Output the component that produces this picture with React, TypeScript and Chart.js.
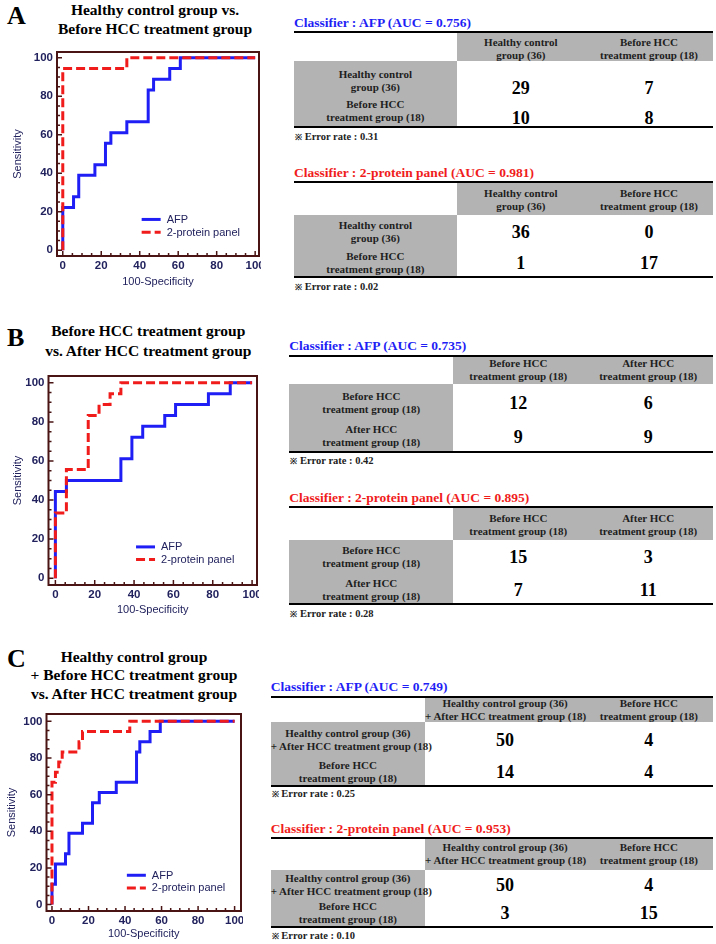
import React, { useEffect, useRef } from 'react';
import { Chart, registerables } from 'chart.js';

Chart.register(...registerables);

// ---------------- DATA ----------------
// axis ticks
const labelTickValues = [0, 20, 40, 60, 80, 100];
const minorTickValues = [0, 5, 10, 15, 20, 25, 30, 35, 40, 45, 50, 55, 60, 65, 70, 75, 80, 85, 90, 95, 100];

const seriesNames = ['AFP', '2-protein panel'];

// Panel A : Healthy control vs. Before HCC treatment (ROC points: 100-Specificity, Sensitivity)
const afpA_fpr = [0, 0, 5.6, 8.3, 16.7, 22.2, 25.0, 33.3, 44.4, 47.2, 55.6, 61.1, 100];
const afpA_sens = [0, 22.2, 27.8, 38.9, 44.4, 55.6, 61.1, 66.7, 83.3, 88.9, 94.4, 100, 100];
const panelA_fpr = [0, 0, 33.3, 100];
const panelA_sens = [0, 94.4, 100, 100];

// Panel B : Before vs. After HCC treatment
const afpB_fpr = [0, 0, 5.6, 33.3, 38.9, 44.4, 55.6, 61.1, 77.8, 88.9, 100];
const afpB_sens = [0, 44.4, 50.0, 61.1, 72.2, 77.8, 83.3, 88.9, 94.4, 100, 100];
const panelB_fpr = [0, 0, 5.6, 16.7, 22.2, 27.8, 33.3, 100];
const panelB_sens = [0, 33.3, 55.6, 83.3, 88.9, 94.4, 100, 100];

// Panel C : Healthy + Before vs. After HCC treatment
const afpC_fpr = [0, 0, 1.9, 7.4, 9.3, 16.7, 22.2, 25.9, 35.2, 46.3, 48.1, 53.7, 59.3, 100];
const afpC_sens = [0, 11.1, 22.2, 27.8, 38.9, 44.4, 55.6, 61.1, 66.7, 83.3, 88.9, 94.4, 100, 100];
const panelC_fpr = [0, 0, 1.9, 3.7, 5.6, 14.8, 16.7, 42.6, 100];
const panelC_sens = [0, 66.7, 72.2, 77.8, 83.3, 88.9, 94.4, 100, 100];

// Panel titles
const titleA = ['Healthy control group vs.', 'Before HCC treatment group'];
const titleB = ['Before HCC treatment group', 'vs. After HCC treatment group'];
const titleC = ['Healthy control group', '+ Before HCC treatment group', 'vs. After HCC treatment group'];

// Tables
const grpHealthy = 'Healthy control\ngroup (36)';
const grpBefore = 'Before HCC\ntreatment group (18)';
const grpAfter = 'After HCC\ntreatment group (18)';
const grpHealthyAfter = 'Healthy control group (36)\n+ After HCC treatment group (18)';

const tableA_groups = [grpHealthy, grpBefore];
const tableB_groups = [grpBefore, grpAfter];
const tableC_groups = [grpHealthyAfter, grpBefore];

const tableA_afp = [[29, 7], [10, 8]];
const tableA_panel = [[36, 0], [1, 17]];
const tableB_afp = [[12, 6], [9, 9]];
const tableB_panel = [[15, 3], [7, 11]];
const tableC_afp = [[50, 4], [14, 4]];
const tableC_panel = [[50, 4], [3, 15]];

const aucA = ['0.756', '0.981'];
const aucB = ['0.735', '0.895'];
const aucC = ['0.749', '0.953'];
const errA = ['0.31', '0.02'];
const errB = ['0.42', '0.28'];
const errC = ['0.25', '0.10'];

// ---------------- STYLE / LAYOUT ----------------
const BLUE = '#1f1ff5';
const RED = '#f01c1c';
const FRAME = '#4a1414';
const NAVY = '#22225e';
const GRAY = '#b3b3b3';
const SERIF = '"Liberation Serif", "Times New Roman", serif';
const SANS = '"Liberation Sans", Arial, sans-serif';

type RocGeo = {
  top: number; width: number; height: number; padL: number; yW: number; xH: number;
  xMin: number; xMax: number; yMin: number; yMax: number;
};

const rocGeoA: RocGeo = { top: 50, width: 261, height: 239, padL: 11, yW: 46, xH: 33, xMin: -3, xMax: 102, yMin: -3, yMax: 103 };
const rocGeoB: RocGeo = { top: 374, width: 259, height: 243, padL: 11, yW: 37.5, xH: 32, xMin: -3.5, xMax: 102.5, yMin: -3.5, yMax: 103.5 };
const rocGeoC: RocGeo = { top: 712, width: 243, height: 229, padL: 5, yW: 41.5, xH: 30, xMin: -3, xMax: 103.5, yMin: -3.5, yMax: 104 };

const rocPlugin = {
  id: 'rocFrame',
  afterDatasetsDraw(chart: any) {
    const { ctx, chartArea: a, scales } = chart;
    ctx.save();
    // frame
    ctx.strokeStyle = FRAME;
    ctx.lineWidth = 2;
    ctx.setLineDash([]);
    ctx.strokeRect(a.left, a.top, a.right - a.left, a.bottom - a.top);
    // inner tick marks
    ctx.lineWidth = 1.5;
    ctx.beginPath();
    for (const v of minorTickValues) {
      const len = labelTickValues.includes(v) ? 5 : 3;
      const x = scales.x.getPixelForValue(v);
      ctx.moveTo(x, a.bottom);
      ctx.lineTo(x, a.bottom - len);
      const y = scales.y.getPixelForValue(v);
      ctx.moveTo(a.left, y);
      ctx.lineTo(a.left + len, y);
    }
    ctx.stroke();
    // legend inside plot
    const lx = scales.x.getPixelForValue(41);
    const ly = scales.y.getPixelForValue(16);
    chart.data.datasets.forEach((ds: any, i: number) => {
      const y = ly + i * 12.7;
      ctx.strokeStyle = ds.borderColor;
      ctx.lineWidth = 3;
      ctx.setLineDash(ds.borderDash || []);
      ctx.beginPath();
      ctx.moveTo(lx, y);
      ctx.lineTo(lx + 19, y);
      ctx.stroke();
      ctx.setLineDash([]);
      ctx.fillStyle = NAVY;
      ctx.font = `11px ${SANS}`;
      ctx.textBaseline = 'middle';
      ctx.textAlign = 'left';
      ctx.fillText(ds.label, lx + 25, y + 0.5);
    });
    ctx.restore();
  },
};

function RocChart(props: { geo: RocGeo; afpX: number[]; afpY: number[]; panX: number[]; panY: number[] }) {
  const ref = useRef<HTMLCanvasElement>(null);
  const { geo } = props;
  useEffect(() => {
    const g = geo;
    const tickFont = { family: SANS, size: 11.5, weight: 'bold' as const };
    const titleFont = { family: SANS, size: 11 };
    const chart = new Chart(ref.current!, {
      type: 'line',
      data: {
        datasets: [
          {
            label: seriesNames[0],
            data: props.afpX.map((x, i) => ({ x, y: props.afpY[i] })),
            borderColor: BLUE,
            borderWidth: 3,
            pointRadius: 0,
            stepped: 'before',
            fill: false,
            order: 1,
          },
          {
            label: seriesNames[1],
            data: props.panX.map((x, i) => ({ x, y: props.panY[i] })),
            borderColor: RED,
            borderWidth: 3,
            borderDash: [9, 4],
            pointRadius: 0,
            stepped: 'before',
            fill: false,
            order: 0,
          },
        ],
      },
      options: {
        animation: false,
        responsive: false,
        devicePixelRatio: 1,
        layout: { padding: { left: g.padL, top: 2, right: 2, bottom: 0 } },
        plugins: { legend: { display: false }, tooltip: { enabled: false } },
        scales: {
          x: {
            type: 'linear',
            min: g.xMin,
            max: g.xMax,
            afterBuildTicks: (axis: any) => { axis.ticks = labelTickValues.map((v) => ({ value: v })); },
            afterFit: (axis: any) => {
              axis.height = g.xH;
              axis.paddingLeft = 0; axis.paddingRight = 0; axis.paddingTop = 0; axis.paddingBottom = 0;
            },
            grid: { display: false, drawTicks: false },
            border: { display: false },
            ticks: { padding: 3, color: NAVY, font: tickFont, maxRotation: 0, autoSkip: false },
            title: { display: true, text: '100-Specificity', color: NAVY, font: titleFont, padding: 0 },
          },
          y: {
            type: 'linear',
            min: g.yMin,
            max: g.yMax,
            afterBuildTicks: (axis: any) => { axis.ticks = labelTickValues.map((v) => ({ value: v })); },
            afterFit: (axis: any) => {
              axis.width = g.yW;
              axis.paddingLeft = 0; axis.paddingRight = 0; axis.paddingTop = 0; axis.paddingBottom = 0;
            },
            grid: { display: false, drawTicks: false },
            border: { display: false },
            ticks: { padding: 4, color: NAVY, font: tickFont, autoSkip: false },
            title: { display: true, text: 'Sensitivity', color: NAVY, font: titleFont, padding: 0 },
          },
        },
      },
      plugins: [rocPlugin],
    } as any);
    return () => chart.destroy();
  }, []);
  return (
    <canvas
      ref={ref}
      width={geo.width}
      height={geo.height}
      style={{ position: 'absolute', left: 0, top: geo.top, width: geo.width, height: geo.height }}
    />
  );
}

function PanelTitle(props: { letter: string; letterTop: number; lines: string[]; cx: number; top: number; lh: number }) {
  return (
    <>
      <div style={{ position: 'absolute', left: 7, top: props.letterTop, fontFamily: SERIF, fontWeight: 'bold', fontSize: 26, lineHeight: '26px', color: '#000' }}>
        {props.letter}
      </div>
      <div style={{ position: 'absolute', left: props.cx - 130, width: 260, top: props.top, textAlign: 'center', fontFamily: SERIF, fontWeight: 'bold', fontSize: 15.5, lineHeight: `${props.lh}px`, color: '#000', whiteSpace: 'nowrap' }}>
        {props.lines.map((l, i) => <div key={i}>{l}</div>)}
      </div>
    </>
  );
}

type TableGeo = {
  left: number; right: number; c1: number; c2: number;
  titleY: number; ruleY: number; headY: number; headBottom: number;
  rowY: number[]; valY: number[]; bottomY: number; errY: number;
};

const tGeoA1: TableGeo = { left: 294, right: 713, c1: 456.7, c2: 585, titleY: 23, ruleY: 32.3, headY: 48.8, headBottom: 61, rowY: [80.7, 110.7], valY: [88, 118], bottomY: 126.7, errY: 136.7 };
const tGeoA2: TableGeo = { left: 294, right: 713, c1: 456.7, c2: 585, titleY: 173.3, ruleY: 182.3, headY: 199.5, headBottom: 215, rowY: [231.7, 262.5], valY: [231.7, 263.3], bottomY: 276.7, errY: 286.7 };
const tGeoB1: TableGeo = { left: 289.3, right: 713, c1: 453.3, c2: 583.3, titleY: 346, ruleY: 356, headY: 370.3, headBottom: 384.3, rowY: [402.5, 436], valY: [402.7, 436.7], bottomY: 451.7, errY: 461 };
const tGeoB2: TableGeo = { left: 289.3, right: 713, c1: 453.3, c2: 583.3, titleY: 497.7, ruleY: 507.3, headY: 524.5, headBottom: 540, rowY: [556.7, 589.5], valY: [556.7, 590], bottomY: 604, errY: 613.5 };
const tGeoC1: TableGeo = { left: 270.7, right: 712.7, c1: 425, c2: 585, titleY: 686.7, ruleY: 696.7, headY: 709.7, headBottom: 722.3, rowY: [740, 771.7], valY: [740, 771.7], bottomY: 785.7, errY: 794.3 };
const tGeoC2: TableGeo = { left: 270.7, right: 712.7, c1: 425, c2: 585, titleY: 829, ruleY: 837.7, headY: 854.2, headBottom: 870, rowY: [884.5, 913.3], valY: [885, 913.3], bottomY: 927.3, errY: 936 };

function ConfTable(props: { g: TableGeo; classifier: string; auc: string; color: string; groups: string[]; values: number[][]; err: string }) {
  const { g } = props;
  const cellText = (text: string, left: number, width: number, cy: number, key: string) => (
    <div key={key} style={{ position: 'absolute', left, width, top: cy - 13, height: 26, textAlign: 'center', fontFamily: SERIF, fontWeight: 'bold', fontSize: 11, lineHeight: '13px', color: '#1e1e1e', whiteSpace: 'pre' }}>
      {text}
    </div>
  );
  const cols = [[g.c1, g.c2 - g.c1], [g.c2, g.right - g.c2]];
  return (
    <>
      <div style={{ position: 'absolute', left: g.left, top: g.titleY - 9, lineHeight: '18px', fontFamily: SERIF, fontWeight: 'bold', fontSize: 13.5, color: props.color, whiteSpace: 'nowrap' }}>
        {`Classifier : ${props.classifier} (AUC = ${props.auc})`}
      </div>
      <div style={{ position: 'absolute', left: g.left, top: g.ruleY - 1, width: g.right - g.left, height: 2, background: '#000' }} />
      <div style={{ position: 'absolute', left: g.c1, top: g.ruleY + 1, width: g.right - g.c1, height: g.headBottom - g.ruleY - 1, background: GRAY }} />
      <div style={{ position: 'absolute', left: g.left, top: g.headBottom, width: g.c1 - g.left, height: g.bottomY - 1 - g.headBottom, background: GRAY }} />
      <div style={{ position: 'absolute', left: g.left, top: g.bottomY - 1, width: g.right - g.left, height: 2, background: '#000' }} />
      {props.groups.map((t, i) => cellText(t, cols[i][0], cols[i][1], g.headY, 'h' + i))}
      {props.groups.map((t, i) => cellText(t, g.left, g.c1 - g.left, g.rowY[i], 'r' + i))}
      {props.values.map((row, i) =>
        row.map((v, j) => (
          <div key={`v${i}${j}`} style={{ position: 'absolute', left: cols[j][0], width: cols[j][1], top: g.valY[i] - 11, lineHeight: '22px', textAlign: 'center', fontFamily: SERIF, fontWeight: 'bold', fontSize: 18, color: '#000' }}>
            {v}
          </div>
        ))
      )}
      <div style={{ position: 'absolute', left: g.left + 1, top: g.errY - 7, lineHeight: '14px', fontFamily: SERIF, fontWeight: 'bold', fontSize: 10.5, color: '#222', whiteSpace: 'nowrap' }}>
        <span style={{ fontSize: 8.5 }}>{'\u203B'}</span>
        {` Error rate : ${props.err}`}
      </div>
    </>
  );
}

export default function App() {
  return (
    <div style={{ position: 'absolute', left: 0, top: 0, width: 716, height: 944, background: '#fff', overflow: 'hidden' }}>
      <PanelTitle letter="A" letterTop={3} lines={titleA} cx={155} top={0} lh={19} />
      <PanelTitle letter="B" letterTop={325} lines={titleB} cx={148.3} top={321} lh={20} />
      <PanelTitle letter="C" letterTop={646} lines={titleC} cx={134} top={647.5} lh={18.7} />

      <RocChart geo={rocGeoA} afpX={afpA_fpr} afpY={afpA_sens} panX={panelA_fpr} panY={panelA_sens} />
      <RocChart geo={rocGeoB} afpX={afpB_fpr} afpY={afpB_sens} panX={panelB_fpr} panY={panelB_sens} />
      <RocChart geo={rocGeoC} afpX={afpC_fpr} afpY={afpC_sens} panX={panelC_fpr} panY={panelC_sens} />

      <ConfTable g={tGeoA1} classifier={seriesNames[0]} auc={aucA[0]} color={BLUE} groups={tableA_groups} values={tableA_afp} err={errA[0]} />
      <ConfTable g={tGeoA2} classifier={seriesNames[1]} auc={aucA[1]} color={RED} groups={tableA_groups} values={tableA_panel} err={errA[1]} />
      <ConfTable g={tGeoB1} classifier={seriesNames[0]} auc={aucB[0]} color={BLUE} groups={tableB_groups} values={tableB_afp} err={errB[0]} />
      <ConfTable g={tGeoB2} classifier={seriesNames[1]} auc={aucB[1]} color={RED} groups={tableB_groups} values={tableB_panel} err={errB[1]} />
      <ConfTable g={tGeoC1} classifier={seriesNames[0]} auc={aucC[0]} color={BLUE} groups={tableC_groups} values={tableC_afp} err={errC[0]} />
      <ConfTable g={tGeoC2} classifier={seriesNames[1]} auc={aucC[1]} color={RED} groups={tableC_groups} values={tableC_panel} err={errC[1]} />
    </div>
  );
}
